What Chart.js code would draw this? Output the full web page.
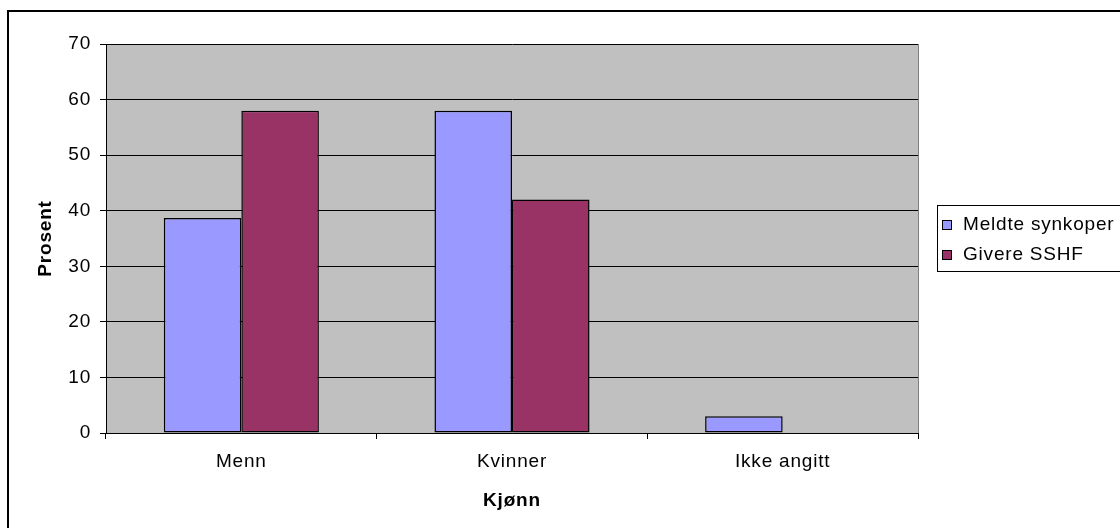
<!DOCTYPE html>
<html>
<head>
<meta charset="utf-8">
<script src="https://cdn.jsdelivr.net/npm/chart.js@4/dist/chart.umd.min.js"></script>
<style>
  html, body { margin: 0; padding: 0; background: #ffffff; }
  #wrap { width: 1120px; height: 528px; position: relative; }
</style>
</head>
<body>
<div id="wrap"><canvas id="c" width="1120" height="528"></canvas></div>
<script>
// Kjønnsfordeling: meldte synkoper mot givere i SSHF (prosent)
const categories = ['Menn', 'Kvinner', 'Ikke angitt'];
const seriesNames = ['Meldte synkoper', 'Givere SSHF'];
const meldteSynkoper = [38.7, 58, 3];
const givereSSHF = [58, 42, 0];
const yTickValues = [0, 10, 20, 30, 40, 50, 60, 70];
const seriesColors = ['#9999FF', '#993366'];

const FONT = '"Liberation Sans", Arial, sans-serif';
const FONT_SIZE = 19;
const SPACING = '0.8px';

// Letter spacing to give the Arial-like text its wide look
const spacingPlugin = {
  id: 'spacing',
  beforeLayout(chart) { chart.ctx.letterSpacing = SPACING; },
  beforeDraw(chart) { chart.ctx.letterSpacing = SPACING; }
};

// White page, grey plot area
const backgroundPlugin = {
  id: 'plotBackground',
  beforeDraw(chart) {
    const { ctx, chartArea: a } = chart;
    ctx.save();
    ctx.fillStyle = '#ffffff';
    ctx.fillRect(0, 0, chart.width, chart.height);
    ctx.fillStyle = '#C0C0C0';
    ctx.fillRect(a.left, a.top, a.right - a.left, a.bottom - a.top);
    ctx.restore();
  }
};

// Plot edge on the right, outer frame and the legend box
const framePlugin = {
  id: 'frameAndLegend',
  afterDraw(chart) {
    const { ctx, chartArea: a } = chart;
    ctx.save();
    ctx.letterSpacing = SPACING;
    // right edge of plot area
    ctx.strokeStyle = '#808080';
    ctx.lineWidth = 1;
    ctx.beginPath();
    ctx.moveTo(Math.round(a.right) + 0.5, a.top);
    ctx.lineTo(Math.round(a.right) + 0.5, a.bottom);
    ctx.stroke();

    // outer frame (top and left edges)
    ctx.strokeStyle = '#000000';
    ctx.lineWidth = 2;
    ctx.beginPath();
    ctx.moveTo(8, chart.height);
    ctx.lineTo(8, 11);
    ctx.lineTo(chart.width + 2, 11);
    ctx.stroke();

    // legend
    const lx = 937, ly = 205, lh = 66;
    ctx.lineWidth = 1;
    ctx.strokeStyle = '#000000';
    ctx.strokeRect(lx + 0.5, ly + 0.5, chart.width, lh);
    ctx.font = FONT_SIZE + 'px ' + FONT;
    ctx.textBaseline = 'middle';
    ctx.textAlign = 'left';
    chart.data.datasets.forEach((ds, i) => {
      const cy = 225 + i * 30;
      ctx.fillStyle = ds.backgroundColor;
      ctx.fillRect(942, cy - 5, 10, 10);
      ctx.strokeRect(942.5, cy - 4.5, 9, 9);
      ctx.fillStyle = '#000000';
      ctx.fillText(ds.label, 963, cy);
    });
    ctx.restore();
  }
};

new Chart(document.getElementById('c'), {
  type: 'bar',
  data: {
    labels: categories,
    datasets: [
      { label: seriesNames[0], data: meldteSynkoper, backgroundColor: seriesColors[0], borderColor: '#000000', borderWidth: 1.5 },
      { label: seriesNames[1], data: givereSSHF, backgroundColor: seriesColors[1], borderColor: '#000000', borderWidth: 1.5 }
    ]
  },
  options: {
    responsive: false,
    animation: false,
    devicePixelRatio: 1,
    layout: { padding: { left: 0, right: 202, top: 44, bottom: 0 } },
    datasets: {
      bar: {
        borderSkipped: false,
        categoryPercentage: 0.573,
        barPercentage: 1
      }
    },
    plugins: {
      legend: { display: false },
      tooltip: { enabled: false }
    },
    scales: {
      x: {
        afterFit(s) { s.height = 95; },
        grid: { offset: true, drawOnChartArea: false, drawTicks: true, tickLength: 6, color: '#000000' },
        border: { display: true, color: '#000000', width: 1 },
        ticks: { color: '#000000', font: { family: FONT, size: FONT_SIZE }, padding: 11, maxRotation: 0 },
        title: {
          display: true, text: 'Kjønn', color: '#000000',
          font: { family: FONT, size: FONT_SIZE, weight: 'bold' },
          padding: { top: 0, bottom: 16 }
        }
      },
      y: {
        min: 0, max: 70,
        afterFit(s) { s.width = 106; },
        afterBuildTicks(s) { s.ticks = yTickValues.map(v => ({ value: v })); },
        grid: { color: '#000000', lineWidth: 1, drawTicks: true, tickLength: 6 },
        border: { display: true, color: '#000000', width: 1 },
        ticks: { color: '#000000', font: { family: FONT, size: FONT_SIZE }, padding: 9 },
        title: {
          display: true, text: 'Prosent', color: '#000000',
          font: { family: FONT, size: FONT_SIZE, weight: 'bold' },
          padding: { top: 34, bottom: 0 }
        }
      }
    }
  },
  plugins: [spacingPlugin, backgroundPlugin, framePlugin]
});
</script>
</body>
</html>
